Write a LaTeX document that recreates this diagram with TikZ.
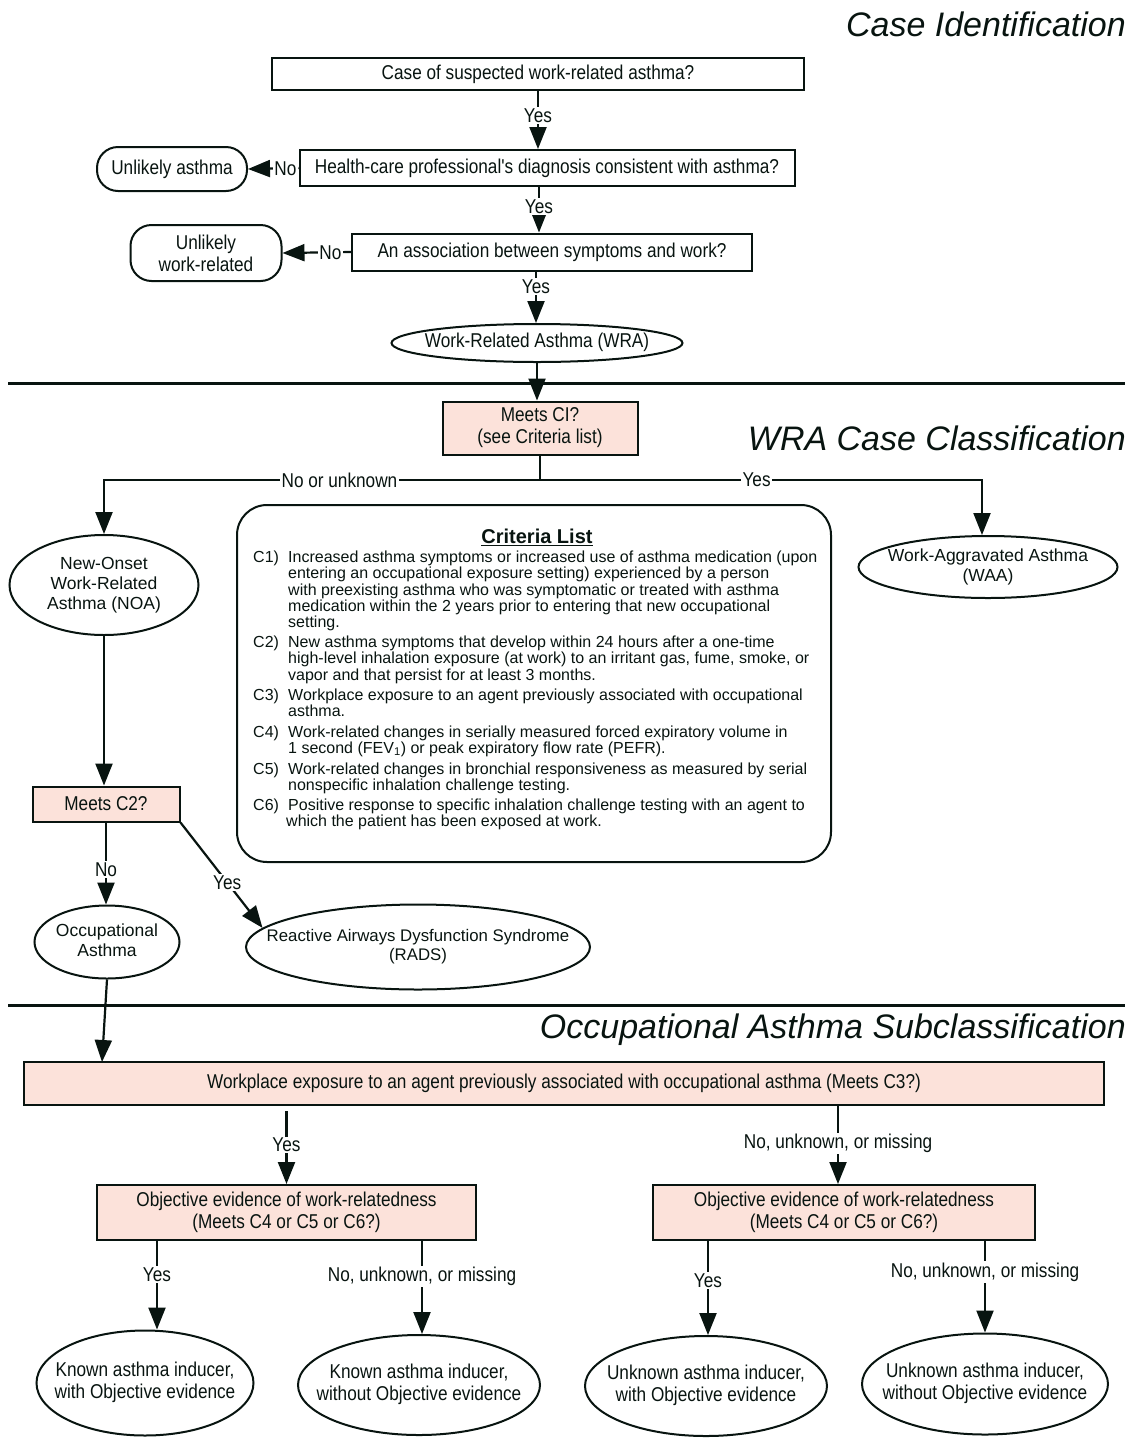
\documentclass[tikz,border=0pt]{standalone}
\usepackage{fontspec}
\setmainfont{Liberation Sans}
\newfontfamily\nf[FakeStretch=0.86]{Liberation Sans}
\usetikzlibrary{shapes.geometric,arrows.meta}
\definecolor{pinkfill}{RGB}{252,226,218}
\definecolor{ink}{RGB}{8,20,16}
\newcommand{\ovtext}[1]{\makebox[0pt][c]{\begin{tabular}{@{}c@{}}#1\end{tabular}}}
\begin{document}
\begin{tikzpicture}[x=1pt,y=-1pt,
  every node/.style={font=\nf\fontsize{20}{22}\selectfont, text=ink},
  wide/.style={font=\fontsize{17.5}{20}\selectfont},
  box/.style={draw=ink, line width=2pt, rectangle, inner sep=0pt, align=center},
  pbox/.style={box, fill=pinkfill},
  oval/.style={draw=ink, line width=2pt, ellipse, inner sep=0pt},
  stad/.style={draw=ink, line width=2pt, rectangle, rounded corners=21pt, inner sep=0pt, align=center},
  conn/.style={draw=ink, line width=2.2pt},
  arr/.style={conn, -{Triangle[length=22pt,width=17pt]}},
  lbl/.style={fill=white, inner sep=1.5pt},
  title/.style={font=\itshape\fontsize{34}{40}\selectfont, anchor=east, inner sep=0pt},
]
\path[use as bounding box] (0,0) rectangle (1131,1438);

% titles and separators
\node[title] (t1) at (1126,24) {Case Identification};
\node[title] (t2) at (1126,438) {WRA Case Classification};
\node[title] (t3) at (1126,1030) {Occupational Asthma Subclassification};
\draw[draw=ink, line width=3pt] (8,383) -- (1125,383);
\draw[draw=ink, line width=3pt] (8,1005) -- (1125,1005);

% case identification
\node[box, minimum width=532pt, minimum height=32pt] (case) at (538,74) {Case of suspected work-related asthma?};
\node[box, minimum width=495pt, minimum height=36pt] (hcp) at (547,168) {Health-care professional's diagnosis consistent with asthma?};
\node[stad, minimum width=150pt, minimum height=44pt] (ua) at (172,169) {Unlikely asthma};
\node[box, minimum width=400pt, minimum height=37pt] (assoc) at (552,252) {An association between symptoms and work?};
\node[stad, minimum width=151pt, minimum height=56pt] (uw) at (206,253) {Unlikely\\work-related};
\node[oval, minimum width=291pt, minimum height=38pt] (wra) at (537,343) {\ovtext{Work-Related Asthma (WRA)}};

\draw[arr] (case.south) -- node[lbl,pos=0.42]{Yes} (case.south |- hcp.north);
\draw[arr] (hcp.west) -- node[lbl,pos=0.26]{No} (ua.east);
\draw[arr] ([xshift=-8pt]hcp.south) -- node[lbl,pos=0.43]{Yes} ([xshift=-8pt]hcp.south |- assoc.north);
\draw[arr] (assoc.west) -- node[lbl,pos=0.3]{No} (uw.east);
\draw[arr] ([xshift=-16pt]assoc.south) -- node[lbl,pos=0.3]{Yes} ([xshift=-16pt]assoc.south |- wra.north);

% classification
\node[pbox, minimum width=195pt, minimum height=53pt] (ci) at (540,428) {Meets CI?\\(see Criteria list)};
\draw[arr] (wra.south) -- (wra.south |- ci.north);
\coordinate (split) at (540,480);
\node[oval, wide, minimum width=189pt, minimum height=100pt] (noa) at (104,585) {\ovtext{New-Onset\\Work-Related\\Asthma (NOA)}};
\node[oval, wide, minimum width=259pt, minimum height=62pt] (waa) at (988,567) {\ovtext{Work-Aggravated Asthma\\(WAA)}};
\draw[conn] (ci.south) -- (split);
\draw[arr] (split) -| node[lbl,pos=0.23]{No or unknown} (noa.north);
\draw[arr] (split) -| node[lbl,pos=0.245]{Yes} ([xshift=-6pt]waa.north);

% criteria list
\node[draw=ink, line width=2pt, rounded corners=30pt, minimum width=594pt, minimum height=357pt] (crit) at (534,683.5) {};
\node[font=\bfseries\fontsize{20}{24}\selectfont, inner sep=0pt] (crith) at (537,537) {\underline{Criteria List}};
\node[anchor=north west, inner sep=0pt, align=left, font=\fontsize{16}{16.1}\selectfont] (critxt) at (253,551) {%
\makebox[35pt][l]{C1)}Increased asthma symptoms or increased use of asthma medication (upon\\
\hspace*{35pt}entering an occupational exposure setting) experienced by a person\\
\hspace*{35pt}with preexisting asthma who was symptomatic or treated with asthma\\
\hspace*{35pt}medication within the 2 years prior to entering that new occupational\\
\hspace*{35pt}setting.\\[4.5pt]
\makebox[35pt][l]{C2)}New asthma symptoms that develop within 24 hours after a one-time\\
\hspace*{35pt}high-level inhalation exposure (at work) to an irritant gas, fume, smoke, or\\
\hspace*{35pt}vapor and that persist for at least 3 months.\\[4.5pt]
\makebox[35pt][l]{C3)}Workplace exposure to an agent previously associated with occupational\\
\hspace*{35pt}asthma.\\[4.5pt]
\makebox[35pt][l]{C4)}Work-related changes in serially measured forced expiratory volume in\\
\hspace*{35pt}1 second (FEV\textsubscript{1}) or peak expiratory flow rate (PEFR).\\[4.5pt]
\makebox[35pt][l]{C5)}Work-related changes in bronchial responsiveness as measured by serial\\
\hspace*{35pt}nonspecific inhalation challenge testing.\\[4.5pt]
\makebox[35pt][l]{C6)}Positive response to specific inhalation challenge testing with an agent to\\
\hspace*{33pt}which the patient has been exposed at work.};

% NOA branch
\node[pbox, minimum width=147pt, minimum height=35pt] (c2) at (106,804) {Meets C2?};
\draw[arr] (noa.south) -- (noa.south |- c2.north);
\node[oval, wide, minimum width=145pt, minimum height=73pt] (oa) at (107,942) {\ovtext{Occupational\\Asthma}};
\node[oval, font=\fontsize{16.8}{19.5}\selectfont, minimum width=344pt, minimum height=85pt] (rads) at (418,947) {\ovtext{Reactive Airways Dysfunction Syndrome\\(RADS)}};
\draw[arr] (c2.south east) -- node[lbl,pos=0.57]{Yes} (rads.173);
\draw[arr] (c2.south) -- node[lbl,pos=0.57]{No} (c2.south |- oa.north);

% subclassification
\node[pbox, minimum width=1080pt, minimum height=43pt] (c3) at (564,1083.5) {Workplace exposure to an agent previously associated with occupational asthma (Meets C3?)};
\coordinate (c3in) at (102,1062);
\draw[arr] (oa.south) -- (c3in);
\node[pbox, minimum width=379pt, minimum height=55pt] (o1) at (286.5,1212.5) {Objective evidence of work-relatedness\\(Meets C4 or C5 or C6?)};
\node[pbox, minimum width=382pt, minimum height=55pt] (o2) at (844,1212.5) {Objective evidence of work-relatedness\\(Meets C4 or C5 or C6?)};
\draw[arr, shorten <=5pt] (c3.south -| o1.north) -- node[lbl,pos=0.5]{Yes} (o1.north);
\draw[arr] ([xshift=-6pt]o2.north |- c3.south) -- node[lbl,pos=0.48]{No, unknown, or missing} ([xshift=-6pt]o2.north);

\node[oval, minimum width=217pt, minimum height=105pt] (e1) at (145,1383) {\ovtext{Known asthma inducer,\\with Objective evidence}};
\node[oval, minimum width=242pt, minimum height=100pt] (e2) at (419,1385) {\ovtext{Known asthma inducer,\\without Objective evidence}};
\node[oval, minimum width=242pt, minimum height=100pt] (e3) at (706,1386) {\ovtext{Unknown asthma inducer,\\with Objective evidence}};
\node[oval, minimum width=246pt, minimum height=101pt] (e4) at (985,1384) {\ovtext{Unknown asthma inducer,\\without Objective evidence}};

\draw[arr] ([xshift=-129.5pt]o1.south) -- node[lbl,pos=0.38]{Yes} ([xshift=-129.5pt]o1.south |- e1.north);
\draw[arr] ([xshift=135.5pt]o1.south) -- node[lbl,pos=0.38]{No, unknown, or missing} ([xshift=135.5pt]o1.south |- e2.north);
\draw[arr] ([xshift=-136pt]o2.south) -- node[lbl,pos=0.42]{Yes} ([xshift=-136pt]o2.south |- e3.north);
\draw[arr] ([xshift=141pt]o2.south) -- node[lbl,pos=0.34]{No, unknown, or missing} ([xshift=141pt]o2.south |- e4.north);
\end{tikzpicture}
\end{document}
